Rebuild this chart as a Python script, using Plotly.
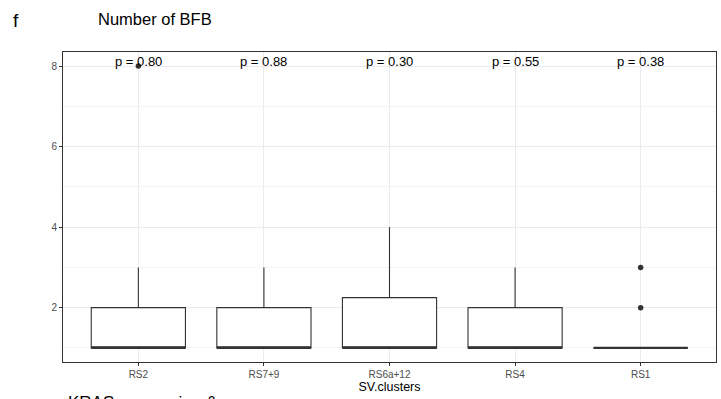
import plotly.graph_objects as go

categories = ["RS2", "RS7+9", "RS6a+12", "RS4", "RS1"]
q1 = [1, 1, 1, 1, 1]
median = [1, 1, 1, 1, 1]
q3 = [2, 2, 2.25, 2, 1]
lowerfence = [1, 1, 1, 1, 1]
upperfence = [3, 3, 4, 3, 1]
outlier_cat = [0, 4, 4]
outlier_val = [8, 2, 3]
p_labels = ["p = 0.80", "p = 0.88", "p = 0.30", "p = 0.55", "p = 0.38"]
p_label_y = 8.12

FONT = "Liberation Sans, Arial, Helvetica, sans-serif"
LINE = "#333333"
idx = list(range(len(categories)))
box_w = 0.75

fig = go.Figure()
fig.add_trace(go.Box(
    x=idx, q1=q1, median=median, q3=q3,
    lowerfence=lowerfence, upperfence=upperfence,
    width=box_w, whiskerwidth=0, boxpoints=False,
    fillcolor="white", line=dict(color=LINE, width=1.1),
    hoverinfo="skip", showlegend=False,
))
for i, m in zip(idx, median):
    fig.add_trace(go.Scatter(
        x=[i - box_w / 2, i + box_w / 2], y=[m, m], mode="lines",
        line=dict(color=LINE, width=2.4), showlegend=False, hoverinfo="skip",
    ))
fig.add_trace(go.Scatter(
    x=outlier_cat, y=outlier_val, mode="markers",
    marker=dict(color=LINE, size=5.5), showlegend=False, hoverinfo="skip",
))

for i, t in zip(idx, p_labels):
    fig.add_annotation(x=i, y=p_label_y, text=t, showarrow=False,
                       xref="x", yref="y", yanchor="middle",
                       font=dict(family=FONT, size=13, color="black"))

fig.add_annotation(x=-0.079, y=1.1, xref="paper", yref="paper", text="f",
                   showarrow=False, xanchor="left", yanchor="middle",
                   font=dict(family=FONT, size=19, color="black"))
fig.add_annotation(x=0.051, y=1.105, xref="paper", yref="paper", text="Number of BFB",
                   showarrow=False, xanchor="left", yanchor="middle",
                   font=dict(family=FONT, size=16.5, color="black"))
fig.add_annotation(x=0.004, y=-0.094, xref="paper", yref="paper", text="KRAS expression &",
                   showarrow=False, xanchor="left", yanchor="top",
                   font=dict(family=FONT, size=17, color="black"))

fig.update_layout(
    width=721, height=399,
    margin=dict(l=63, r=5, t=52, b=37),
    paper_bgcolor="white", plot_bgcolor="white",
    font=dict(family=FONT),
    xaxis=dict(
        range=[-0.6, 4.6], tickmode="array", tickvals=idx, ticktext=categories,
        showgrid=True, gridcolor="#ebebeb", gridwidth=1,
        ticks="outside", ticklen=3, tickcolor="#333333",
        tickfont=dict(family=FONT, size=10, color="#4d4d4d"),
        showline=True, linecolor="#333333", linewidth=1, mirror=True,
        zeroline=False,
        title=dict(text="SV.clusters", font=dict(family=FONT, size=12.5, color="black"), standoff=1),
    ),
    yaxis=dict(
        range=[0.65, 8.35], tickmode="array", tickvals=[2, 4, 6, 8],
        showgrid=True, gridcolor="#ebebeb", gridwidth=1,
        minor=dict(tickmode="array", tickvals=[1, 3, 5, 7], showgrid=True,
                   gridcolor="#f4f4f4", gridwidth=0.6, ticks=""),
        ticks="outside", ticklen=3, tickcolor="#333333",
        tickfont=dict(family=FONT, size=10, color="#4d4d4d"),
        showline=True, linecolor="#333333", linewidth=1, mirror=True,
        zeroline=False,
    ),
)

fig.write_html("out.html", config={"displayModeBar": False},
               post_script="document.body.style.margin='0';document.body.style.overflow='hidden';")
